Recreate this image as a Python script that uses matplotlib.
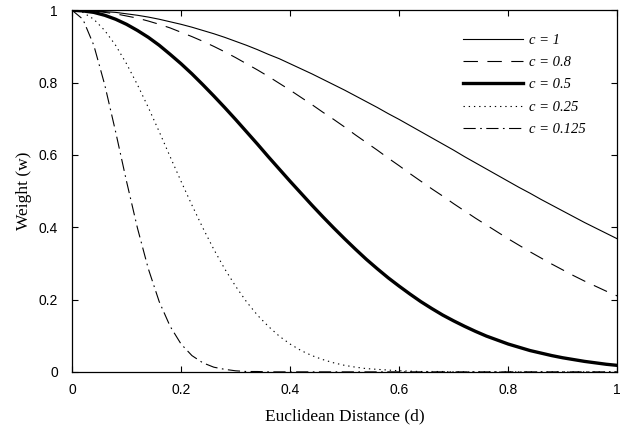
"""Gaussian distance weights for several kernel widths c."""

from matplotlib import pyplot as plt
from matplotlib.ticker import FuncFormatter
import numpy as np

# distance samples (every 0.02)
d = np.linspace(0, 1, 51)

# weights for each c
w_c1 = [1.000, 1.000, 0.998, 0.996, 0.994, 0.990, 0.986, 0.981, 0.975, 0.968,
        0.961, 0.953, 0.944, 0.935, 0.925, 0.914, 0.903, 0.891, 0.878, 0.866,
        0.852, 0.838, 0.824, 0.809, 0.794, 0.779, 0.763, 0.747, 0.731, 0.714,
        0.698, 0.681, 0.664, 0.647, 0.630, 0.613, 0.595, 0.578, 0.561, 0.544,
        0.527, 0.510, 0.494, 0.477, 0.461, 0.445, 0.429, 0.413, 0.398, 0.383,
        0.368]
w_c08 = [1.000, 0.999, 0.998, 0.994, 0.990, 0.984, 0.978, 0.970, 0.961, 0.951,
         0.939, 0.927, 0.914, 0.900, 0.885, 0.869, 0.852, 0.835, 0.817, 0.798,
         0.779, 0.759, 0.739, 0.718, 0.698, 0.677, 0.655, 0.634, 0.613, 0.591,
         0.570, 0.548, 0.527, 0.506, 0.486, 0.465, 0.445, 0.425, 0.406, 0.387,
         0.368, 0.350, 0.332, 0.315, 0.298, 0.282, 0.266, 0.251, 0.237, 0.223,
         0.210]
w_c05 = [1.000, 0.998, 0.994, 0.986, 0.975, 0.961, 0.944, 0.925, 0.903, 0.878,
         0.852, 0.824, 0.794, 0.763, 0.731, 0.698, 0.664, 0.630, 0.595, 0.561,
         0.527, 0.494, 0.461, 0.429, 0.398, 0.368, 0.339, 0.311, 0.285, 0.260,
         0.237, 0.215, 0.194, 0.175, 0.157, 0.141, 0.126, 0.112, 0.099, 0.088,
         0.077, 0.068, 0.059, 0.052, 0.045, 0.039, 0.034, 0.029, 0.025, 0.021,
         0.018]
w_c025 = [1.000, 0.994, 0.975, 0.944, 0.903, 0.852, 0.794, 0.731, 0.664, 0.595,
          0.527, 0.461, 0.398, 0.339, 0.285, 0.237, 0.194, 0.157, 0.126, 0.099,
          0.077, 0.059, 0.045, 0.034, 0.025, 0.018, 0.013, 0.009, 0.007, 0.005,
          0.003, 0.002, 0.001, 0.001, 0.001, 0.000, 0.000, 0.000, 0.000, 0.000,
          0.000, 0.000, 0.000, 0.000, 0.000, 0.000, 0.000, 0.000, 0.000, 0.000,
          0.000]
w_c0125 = [1.000, 0.975, 0.903, 0.794, 0.664, 0.527, 0.398, 0.285, 0.194, 0.126,
           0.077, 0.045, 0.025, 0.013, 0.007, 0.003, 0.001, 0.001, 0.000, 0.000,
           0.000, 0.000, 0.000, 0.000, 0.000, 0.000, 0.000, 0.000, 0.000, 0.000,
           0.000, 0.000, 0.000, 0.000, 0.000, 0.000, 0.000, 0.000, 0.000, 0.000,
           0.000, 0.000, 0.000, 0.000, 0.000, 0.000, 0.000, 0.000, 0.000, 0.000,
           0.000]

labels = ["c = 1", "c = 0.8", "c = 0.5", "c = 0.25", "c = 0.125"]

fig = plt.figure(figsize=(6.26, 4.25), dpi=100)
ax = fig.add_axes([0.115, 0.125, 0.871, 0.851])

ax.plot(d, w_c1, color="k", lw=0.8, ls="-", label=labels[0])
ax.plot(d, w_c08, color="k", lw=0.8, ls=(0, (13, 8.5)), label=labels[1])
ax.plot(d, w_c05, color="k", lw=2.4, ls="-", label=labels[2])
ax.plot(d, w_c025, color="k", lw=0.8, ls=(0, (1.2, 3.5)), label=labels[3])
ax.plot(d, w_c0125, color="k", lw=0.8, ls=(0, (11, 4, 1.5, 4)), label=labels[4])

ax.set_xlim(0, 1)
ax.set_ylim(0, 1)
ax.set_xticks(np.arange(0, 1.01, 0.2))
ax.set_yticks(np.arange(0, 1.01, 0.2))
fmt = FuncFormatter(lambda v, _: f"{v:g}")
ax.xaxis.set_major_formatter(fmt)
ax.yaxis.set_major_formatter(fmt)
ax.tick_params(direction="in", top=True, right=True, length=4, width=0.8,
               labelsize=10)
ax.tick_params(axis="x", pad=8)
ax.tick_params(axis="y", pad=10)
for lab in ax.get_xticklabels() + ax.get_yticklabels():
    lab.set_family("Liberation Sans")
for sp in ax.spines.values():
    sp.set_linewidth(0.9)

ax.set_xlabel("Euclidean Distance (d)", family="Liberation Serif", fontsize=12.5, labelpad=8)
ax.set_ylabel("Weight (w)", family="Liberation Serif", fontsize=12.5, labelpad=5)

ax.legend(loc="upper left", bbox_to_anchor=(0.717, 0.935), frameon=False,
          prop={"family": "Liberation Serif", "style": "italic", "size": 10.5},
          handlelength=4.1, handletextpad=0.4, labelspacing=0.62,
          borderpad=0, borderaxespad=0)

fig.savefig("out.png", dpi=100)
